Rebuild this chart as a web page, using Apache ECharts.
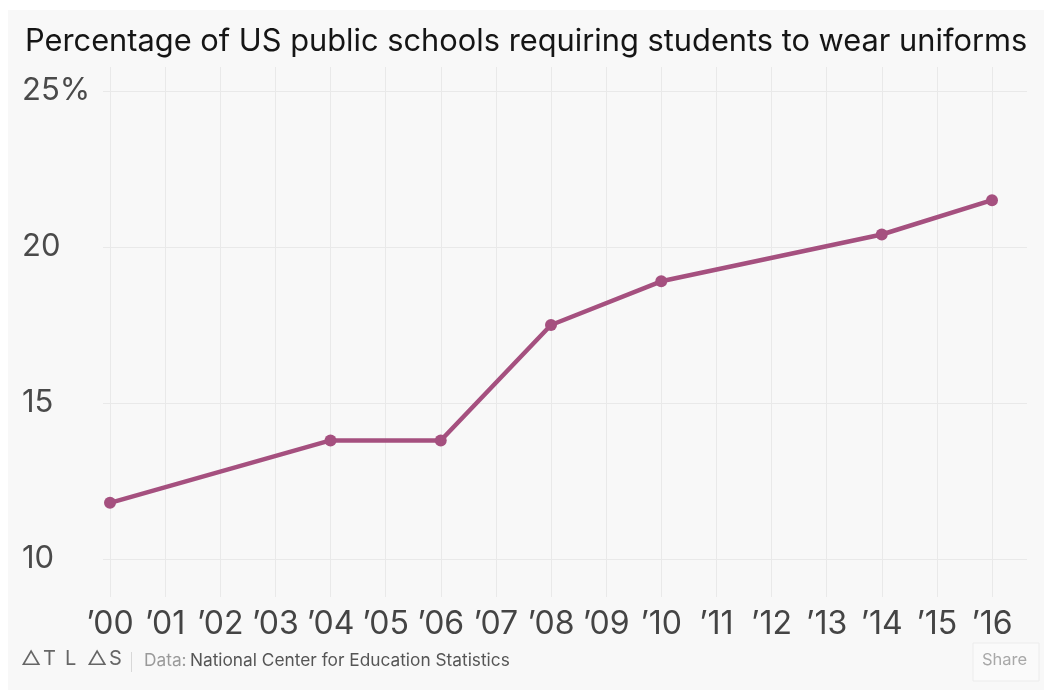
<!DOCTYPE html>
<html>
<head>
<meta charset="utf-8">
<style>
  html, body { margin: 0; padding: 0; background: #ffffff; }
  #chart { width: 1044px; height: 690px; }
</style>
<script src="https://cdn.jsdelivr.net/npm/echarts@6/dist/echarts.min.js"></script>
</head>
<body>
<div id="chart"></div>
<script>
// Survey years and share of schools (%) requiring uniforms
const years = [2000, 2004, 2006, 2008, 2010, 2014, 2016];
const uniformShare = [11.8, 13.8, 13.8, 17.5, 18.9, 20.4, 21.5];

// Axis tick labels
const yearLabels = ["’00", "’01", "’02", "’03", "’04", "’05", "’06", "’07", "’08",
                    "’09", "’10", "’11", "’12", "’13", "’14", "’15", "’16"];
const yTicks = [10, 15, 20, 25];

const FONT = 'Inter, "Noto Sans", sans-serif';
const LINE_COLOR = '#a5507f';
const GRID_COLOR = '#e9e9e9';

// Brand mark letters, spaced out
const logoLetters = ['△', 'T', 'L', '△', 'S'];
const logoElements = logoLetters.map((ch, i) => ({
  type: 'text', left: 21 + i * 22, top: 649,
  style: { text: ch, fontFamily: FONT, fontSize: 20, fill: '#666' }
}));

const chart = echarts.init(document.getElementById('chart'), null, { renderer: 'canvas' });

const option = {
  animation: false,
  backgroundColor: '#ffffff',
  title: {
    text: 'Percentage of US public schools requiring students to wear uniforms',
    left: 20,
    top: 21,
    textStyle: { fontFamily: FONT, fontSize: 30.8, fontWeight: 'normal', color: '#151515' }
  },
  graphic: [
    {
      type: 'rect', z: -10, silent: true,
      shape: { x: 8, y: 10, width: 1036, height: 680 },
      style: { fill: '#f8f8f8' }
    },
    ...logoElements,
    {
      type: 'rect', silent: true,
      shape: { x: 131, y: 652, width: 1, height: 20 },
      style: { fill: '#d8d8d8' }
    },
    {
      type: 'text', left: 144, top: 652,
      style: {
        text: '{a|Data:} {b|National Center for Education Statistics}',
        rich: {
          a: { fontFamily: FONT, fontSize: 17.3, fill: '#9a9a9a' },
          b: { fontFamily: FONT, fontSize: 17.3, fill: '#555' }
        }
      }
    },
    {
      type: 'rect',
      shape: { x: 973, y: 643, width: 66, height: 38 },
      style: { fill: '#fafafa', stroke: '#ececec', lineWidth: 1 }
    },
    {
      type: 'text', left: 982, top: 652,
      style: { text: 'Share', fontFamily: FONT, fontSize: 16.5, fill: '#a8a8a8' }
    }
  ],
  grid: [
    // vertical year gridlines and year labels
    { left: 110, right: 52, top: 67, bottom: 93 },
    // horizontal percentage gridlines and labels
    { left: 103, right: 17, top: 91, bottom: 131 },
    // data line
    { left: 110, right: 52, top: 91, bottom: 131 }
  ],
  xAxis: [
    {
      gridIndex: 0, type: 'category', data: yearLabels, boundaryGap: false,
      axisLine: { show: false }, axisTick: { show: false },
      splitLine: { show: true, lineStyle: { color: GRID_COLOR, width: 1 } },
      axisLabel: { interval: 0, margin: 11, fontFamily: FONT, fontSize: 32, color: '#444' }
    },
    { gridIndex: 1, type: 'value', min: 0, max: 1, show: false },
    { gridIndex: 2, type: 'value', min: years[0], max: years[years.length - 1], show: false }
  ],
  yAxis: [
    { gridIndex: 0, type: 'value', min: 0, max: 1, show: false },
    {
      gridIndex: 1, type: 'value', min: yTicks[0], max: yTicks[yTicks.length - 1], interval: 5,
      axisLine: { show: false }, axisTick: { show: false },
      splitLine: { show: true, lineStyle: { color: GRID_COLOR, width: 1 } },
      axisLabel: {
        align: 'left', margin: 81, fontFamily: FONT, fontSize: 31, color: '#4a4a4a',
        formatter: v => (v === yTicks[yTicks.length - 1] ? v + '%' : String(v))
      }
    },
    { gridIndex: 2, type: 'value', min: yTicks[0], max: yTicks[yTicks.length - 1], show: false }
  ],
  series: [
    {
      type: 'line',
      xAxisIndex: 2, yAxisIndex: 2,
      data: years.map((y, i) => [y, uniformShare[i]]),
      symbol: 'circle', symbolSize: 12,
      lineStyle: { color: LINE_COLOR, width: 4.5 },
      itemStyle: { color: LINE_COLOR },
      z: 5
    }
  ]
};

chart.setOption(option);
</script>
</body>
</html>
